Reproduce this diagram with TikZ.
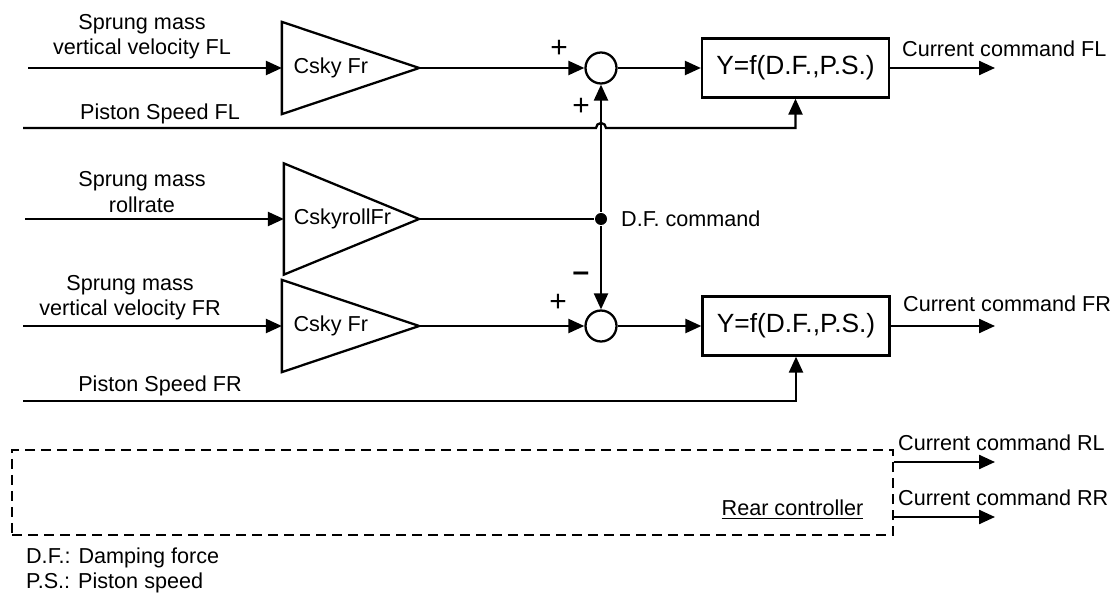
\documentclass[tikz,border=0pt]{standalone}
\usepackage{fontspec}
\setmainfont{Liberation Sans}
\usepackage{tikz}
\usetikzlibrary{arrows.meta, positioning, shapes.geometric, calc}

\begin{document}
\begin{tikzpicture}[
    x=0.02cm, y=-0.02cm,
    line width=1.3pt,
    gain/.style={minimum width=2.7cm, minimum height=1.8cm, inner sep=0},
    sum/.style={draw, circle, minimum size=0.62cm, inner sep=0},
    fblock/.style={draw, minimum width=3.74cm, minimum height=1.18cm, inner sep=0, font=\fontsize{15}{18}\selectfont},
    jdot/.style={circle, fill, minimum size=0.24cm, inner sep=0},
    rearbox/.style={draw, line width=0.9pt, dash pattern=on 0.2cm off 0.12cm, minimum width=17.62cm, minimum height=1.7cm, inner sep=0},
    txt/.style={font=\fontsize{12.3}{14.4}\selectfont, align=center, inner sep=0},
    sgn/.style={font=\fontsize{17}{17}\selectfont, inner sep=0},
    arr/.style={-{Triangle[length=0.32cm, width=0.28cm]}}
]
\useasboundingbox (0,0) rectangle (1111,594);

\coordinate (infl)  at (28,68);
\coordinate (psfl)  at (23,128);
\coordinate (inrol) at (25,219);
\coordinate (infr)  at (23,326);
\coordinate (psfr)  at (23,401);
\coordinate (outfl) at (995,68);
\coordinate (outfr) at (995,326);
\coordinate (outrl) at (995,462);
\coordinate (outrr) at (995,517);

\node[gain] (kfl)  at (350.5,68)  {};
\node[gain, minimum width=2.66cm, minimum height=2.18cm] (krol) at (351.5,219) {};
\node[gain] (kfr)  at (350.5,326) {};
\draw (kfl.north west) -- (kfl.east) -- (kfl.south west) -- cycle;
\draw (krol.north west) -- (krol.east) -- (krol.south west) -- cycle;
\draw (kfr.north west) -- (kfr.east) -- (kfr.south west) -- cycle;
\node[txt, anchor=west, xshift=6pt] at (kfl.west)  {Csky Fr};
\node[txt, anchor=west, xshift=5pt] at (krol.west) {CskyrollFr};
\node[txt, anchor=west, xshift=6pt] at (kfr.west)  {Csky Fr};

\node[sum] (sfl) at (601,68) {};
\node[sum] (sfr) at (601,326) {};
\node[jdot] (dfc) at (601,219) {};
\node[fblock] (ffl) at (795.5,68)  {Y=f(D.F.,P.S.)};
\node[fblock] (ffr) at (796,326) {Y=f(D.F.,P.S.)};
\node[rearbox] (rear) at (452.5,492.5) {};

\draw[arr] (infl) -- (kfl.west);
\draw[arr] (inrol) -- (krol.west);
\draw[arr] (infr) -- (kfr.west);
\draw[arr] (kfl.east) -- (sfl);
\draw[arr] (kfr.east) -- (sfr);
\draw (krol.east) -- (dfc);
\draw[arr] (dfc) -- (sfl);
\draw[arr] (dfc) -- (sfr);
\draw[arr] (sfl) -- (ffl);
\draw[arr] (sfr) -- (ffr);
\draw[arr] (psfl) -- ($(psfl -| sfl)+(-5,0)$) arc[start angle=180, end angle=0, radius=0.1cm] -| (ffl.south);
\draw[arr] (psfr) -| (ffr.south);
\draw[arr] (ffl) -- (outfl);
\draw[arr] (ffr) -- (outfr);
\draw[arr] (rear.east |- outrl) -- (outrl);
\draw[arr] (rear.east |- outrr) -- (outrr);

\node[txt] at (142,37)  {Sprung mass\\vertical velocity FL};
\node[txt] at (160,114) {Piston Speed FL};
\node[txt] at (142,192) {Sprung mass\\rollrate};
\node[txt] at (130,298) {Sprung mass\\vertical velocity FR};
\node[txt] at (160,386) {Piston Speed FR};

\node[sgn] at (559,49)  {+};
\node[sgn] at (581,107) {+};
\node[sgn] at (581,277) {\textbf{\textendash}};
\node[sgn] at (558,303) {+};
\node[txt, anchor=west] at (620,219) {D.F. command};

\node[txt, anchor=west] at (901,49)  {Current command FL};
\node[txt, anchor=west] at (902,304) {Current command FR};
\node[txt, anchor=west] at (897,443) {Current command RL};
\node[txt, anchor=west] at (897,498) {Current command RR};
\node[txt] at (792.5,510) {\underline{Rear controller}};

\node[txt, anchor=west] at (25,558) {D.F.: Damping force};
\node[txt, anchor=west] at (25,583) {P.S.: Piston speed};
\end{tikzpicture}
\end{document}
